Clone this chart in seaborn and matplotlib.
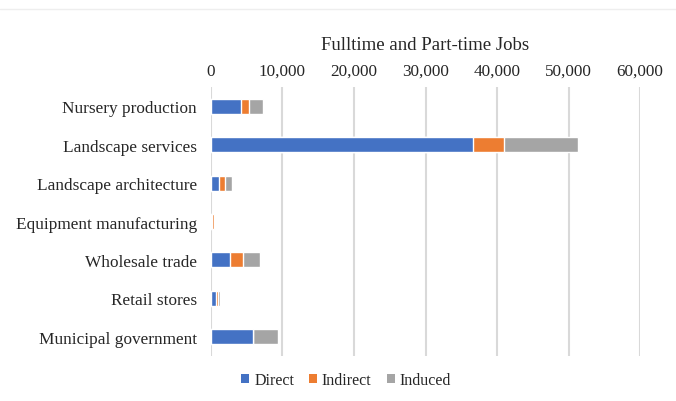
import matplotlib
matplotlib.use("Agg")
import matplotlib.pyplot as plt
import seaborn as sns
import pandas as pd
import numpy as np
from matplotlib.ticker import FuncFormatter
from matplotlib.patches import Patch

categories = ["Nursery production", "Landscape services", "Landscape architecture",
              "Equipment manufacturing", "Wholesale trade", "Retail stores",
              "Municipal government"]
direct = [4150, 36600, 1100, 150, 2700, 650, 5900]
indirect = [1120, 4420, 900, 300, 1730, 280, 0]
induced = [1960, 10350, 950, 100, 2470, 370, 3450]
series = ["Direct", "Indirect", "Induced"]
colors = ["#4472C4", "#ED7D31", "#A5A5A5"]

sns.set_theme(style="white")
plt.rcParams['font.family'] = ['Liberation Serif', 'DejaVu Serif']

df = pd.DataFrame({"cat": categories, "Direct": direct, "Indirect": indirect, "Induced": induced})
df["c1"] = df["Direct"]
df["c2"] = df["Direct"] + df["Indirect"]
df["c3"] = df["c2"] + df["Induced"]

fig = plt.figure(figsize=(6.76, 4.02), dpi=100)
ax = fig.add_axes([0.312, 0.112, 0.635, 0.669])

for col, color in zip(["c3", "c2", "c1"], [colors[2], colors[1], colors[0]]):
    sns.barplot(data=df, x=col, y="cat", orient="h", color=color, width=0.39,
                saturation=1, ax=ax, order=categories)

ax.set_xlim(0, 60000)
ax.set_xticks(np.arange(0, 60001, 10000))
ax.xaxis.set_major_formatter(FuncFormatter(lambda v, p: f"{int(v):,}"))
ax.xaxis.tick_top()
ax.xaxis.set_label_position("top")
ax.set_xlabel("Fulltime and Part-time Jobs", fontsize=13.5, color="#262626", labelpad=10)
ax.set_ylabel("")
ax.tick_params(axis="x", length=0, labelsize=12.3, colors="#262626", pad=6)
ax.tick_params(axis="y", length=0, labelsize=12.4, colors="#262626", pad=10)
ax.grid(axis="x", color="#d9d9d9", linewidth=1.5)
ax.set_axisbelow(True)
for s in ax.spines.values():
    s.set_visible(False)

handles = [Patch(facecolor=c, edgecolor="none", label=s) for s, c in zip(series, colors)]
fig.legend(handles=handles, loc="center", bbox_to_anchor=(0.512, 0.052), ncol=3,
           frameon=False, fontsize=11.5, handlelength=0.5, handleheight=0.5,
           handletextpad=0.3, columnspacing=0.95, labelcolor="#262626")

fig.add_artist(plt.Line2D([0, 1], [0.975, 0.975], color="#eeeeee", linewidth=1))

fig.savefig("out.png", dpi=100)
